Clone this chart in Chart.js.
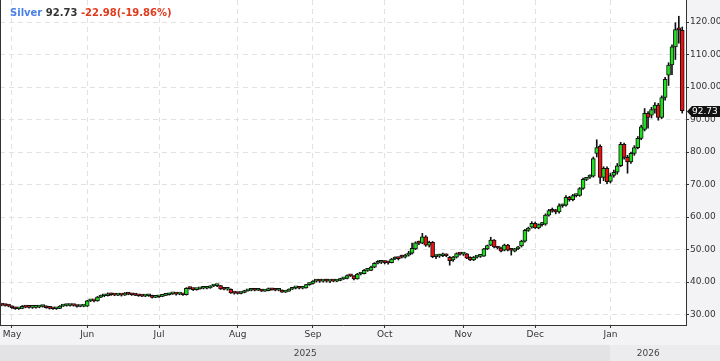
<!DOCTYPE html>
<html>
<head>
<meta charset="utf-8">
<script src="https://cdn.jsdelivr.net/npm/chart.js@4.4.1/dist/chart.umd.min.js"></script>
<style>
  html, body { margin: 0; padding: 0; background: #f3f3f5; }
  canvas { display: block; }
</style>
</head>
<body>
<canvas id="chart" width="720" height="361"></canvas>
<script>
// daily candles [open, high, low, close], one small array per month
const aprTail = [
  [33.0, 33.2, 32.7, 32.9], [32.9, 33.1, 32.6, 32.8], [32.8, 33.0, 32.4, 32.6]
];
const may = [
  [32.6, 32.7, 31.9, 32.1], [32.1, 32.3, 31.6, 31.8], [31.8, 32.1, 31.6, 31.9], [31.9, 32.8, 31.8, 32.5],
  [32.5, 32.6, 32.1, 32.3], [32.3, 32.5, 32.0, 32.2], [32.2, 32.4, 31.9, 32.2], [32.2, 32.6, 32.0, 32.3],
  [32.3, 32.7, 32.1, 32.5], [32.5, 32.8, 32.3, 32.6], [32.6, 32.7, 32.0, 32.1], [32.1, 32.3, 31.7, 31.9],
  [31.9, 32.1, 31.6, 31.8], [31.8, 32.1, 31.6, 31.9], [31.9, 32.8, 31.8, 32.6], [32.6, 33.0, 32.5, 32.8],
  [32.8, 33.1, 32.6, 32.8], [32.8, 33.1, 32.6, 32.9], [32.9, 33.0, 32.6, 32.8], [32.8, 32.9, 32.3, 32.5],
  [32.5, 32.8, 32.4, 32.6], [32.6, 32.8, 32.4, 32.6]
];
const jun = [
  [32.6, 34.4, 32.5, 34.2], [34.2, 34.6, 34.0, 34.3], [34.3, 34.5, 33.9, 34.2], [34.2, 35.6, 34.1, 35.4],
  [35.4, 36.0, 35.2, 35.8], [35.8, 36.1, 35.5, 35.8], [35.8, 36.7, 35.7, 36.4], [36.4, 36.6, 35.9, 36.1],
  [36.1, 36.4, 35.8, 36.0], [36.0, 36.3, 35.8, 36.1], [36.1, 36.3, 35.7, 36.0], [36.0, 36.8, 35.9, 36.6],
  [36.6, 36.8, 36.1, 36.3], [36.3, 36.5, 35.9, 36.1], [36.1, 36.3, 35.8, 36.0], [36.0, 36.1, 35.6, 35.8],
  [35.8, 36.0, 35.5, 35.7], [35.7, 36.0, 35.5, 35.8], [35.8, 36.2, 35.6, 35.9], [35.9, 36.0, 35.1, 35.3],
  [35.3, 35.7, 35.2, 35.5]
];
const jul = [
  [35.5, 35.8, 35.3, 35.6], [35.6, 36.1, 35.5, 35.9], [35.9, 36.3, 35.8, 36.1], [36.1, 36.6, 36.0, 36.4],
  [36.4, 36.7, 36.2, 36.5], [36.5, 36.6, 36.0, 36.3], [36.3, 36.5, 36.1, 36.3], [36.3, 36.5, 35.9, 36.1],
  [36.1, 38.3, 36.0, 38.1], [38.1, 38.5, 37.8, 38.0], [38.0, 38.2, 37.4, 37.7], [37.7, 38.1, 37.5, 37.9],
  [37.9, 38.3, 37.8, 38.1], [38.1, 38.3, 37.9, 38.1], [38.1, 38.4, 37.9, 38.2], [38.2, 38.9, 38.1, 38.8],
  [38.8, 39.1, 38.6, 38.9], [38.9, 39.2, 38.6, 38.9], [38.9, 39.0, 37.7, 37.9], [37.9, 38.1, 37.6, 37.8],
  [37.8, 38.0, 37.5, 37.8], [37.8, 37.9, 36.5, 36.7], [36.7, 36.9, 36.3, 36.6]
];
const aug = [
  [36.6, 36.9, 36.3, 36.5], [36.5, 37.0, 36.4, 36.8], [36.8, 37.5, 36.7, 37.3], [37.3, 37.7, 37.2, 37.5],
  [37.5, 37.8, 37.3, 37.6], [37.6, 37.8, 37.3, 37.5], [37.5, 37.9, 37.4, 37.7], [37.7, 37.8, 37.1, 37.2],
  [37.2, 37.6, 37.1, 37.4], [37.4, 38.2, 37.3, 38.0], [38.0, 38.1, 37.5, 37.6], [37.6, 37.8, 37.3, 37.5],
  [37.5, 37.7, 37.3, 37.5], [37.5, 37.6, 36.8, 36.9], [36.9, 37.4, 36.8, 37.2], [37.2, 37.9, 37.1, 37.8],
  [37.8, 38.3, 37.7, 38.2], [38.2, 38.4, 37.9, 38.2], [38.2, 38.4, 37.9, 38.1], [38.1, 38.4, 37.9, 38.2],
  [38.2, 39.3, 38.1, 39.2]
];
const sep = [
  [39.2, 39.8, 39.0, 39.6], [39.6, 40.5, 39.4, 40.3], [40.3, 40.7, 40.0, 40.4], [40.4, 40.8, 39.9, 40.3],
  [40.3, 40.6, 40.0, 40.4], [40.4, 40.9, 40.0, 40.3], [40.3, 40.6, 39.8, 40.4], [40.4, 40.7, 40.1, 40.3],
  [40.3, 40.8, 40.1, 40.5], [40.5, 41.2, 40.4, 41.0], [41.0, 41.4, 40.8, 41.1], [41.1, 42.2, 41.0, 42.0],
  [42.0, 42.3, 41.7, 41.9], [41.9, 42.0, 40.7, 41.0], [41.0, 42.7, 40.9, 42.5], [42.5, 42.9, 42.2, 42.6],
  [42.6, 43.9, 42.5, 43.6], [43.6, 44.0, 43.3, 43.6], [43.6, 44.9, 43.5, 44.6], [44.6, 46.0, 44.4, 45.8],
  [45.8, 46.6, 45.6, 46.1], [46.1, 46.5, 45.7, 46.2]
];
const oct = [
  [46.2, 46.6, 45.6, 46.0], [46.0, 46.4, 45.5, 45.9], [46.0, 47.3, 45.9, 47.1], [47.1, 47.8, 46.9, 47.4],
  [47.4, 47.7, 46.8, 47.2], [48.1, 48.3, 47.4, 47.7], [47.7, 48.6, 47.4, 48.3], [48.3, 49.5, 48.0, 48.9],
  [48.9, 52.0, 48.6, 50.4], [50.2, 52.4, 50.0, 52.1], [52.1, 52.6, 51.5, 52.0], [52.0, 55.0, 51.8, 53.9],
  [53.9, 54.3, 51.0, 51.4], [51.4, 52.6, 50.8, 52.2], [52.2, 52.5, 47.5, 47.8], [47.8, 48.5, 47.2, 48.0],
  [48.0, 48.6, 47.6, 48.1], [48.1, 48.9, 47.8, 48.5], [48.5, 48.7, 47.8, 48.1], [47.6, 47.9, 45.2, 46.6],
  [46.8, 47.9, 46.4, 47.7], [47.7, 49.0, 47.4, 48.8], [48.8, 49.1, 48.3, 48.6]
];
const nov = [
  [48.6, 48.9, 48.2, 48.7], [48.7, 48.8, 47.2, 47.4], [47.6, 47.8, 46.6, 46.8], [46.8, 47.9, 46.6, 47.7],
  [47.7, 48.1, 47.4, 47.9], [47.9, 48.3, 47.6, 48.0], [48.0, 50.4, 47.9, 50.2], [50.2, 51.4, 50.0, 51.2],
  [51.4, 53.8, 51.2, 52.9], [52.9, 53.1, 50.5, 50.8], [50.8, 51.0, 50.2, 50.5], [50.5, 50.8, 49.3, 49.5],
  [49.8, 51.7, 49.6, 51.4], [51.4, 51.6, 49.6, 49.8], [50.1, 50.4, 48.3, 49.8], [49.5, 50.4, 49.3, 50.2],
  [50.2, 51.0, 50.0, 50.8], [51.1, 52.9, 50.8, 52.6], [52.6, 56.2, 52.3, 55.9], [55.9, 56.9, 55.6, 56.6]
];
const dec = [
  [56.9, 58.6, 56.6, 58.1], [58.1, 58.5, 56.5, 56.7], [56.7, 57.9, 56.4, 57.7], [57.7, 58.4, 57.2, 57.8],
  [57.8, 61.0, 57.5, 60.6], [60.6, 62.4, 60.3, 62.0], [62.0, 62.8, 61.5, 61.8], [61.8, 62.4, 61.0, 61.6],
  [61.6, 64.1, 61.2, 63.5], [63.5, 64.0, 63.0, 63.7], [63.7, 66.6, 63.4, 66.1], [66.1, 66.4, 64.9, 65.4],
  [65.4, 67.0, 65.0, 66.6], [66.6, 67.1, 66.2, 66.7], [66.7, 69.1, 66.4, 68.8], [68.8, 72.0, 68.5, 71.6],
  [71.6, 72.2, 71.2, 71.9], [72.3, 73.0, 71.9, 72.6], [72.6, 78.5, 72.3, 78.0], [79.6, 83.8, 78.5, 81.4],
  [81.8, 82.2, 70.4, 72.2], [72.2, 75.5, 71.2, 75.0], [75.0, 75.5, 70.3, 70.9]
];
const jan = [
  [71.0, 73.5, 70.5, 72.8], [72.8, 74.5, 72.3, 73.8], [73.8, 76.5, 73.2, 75.8], [75.8, 83.0, 75.5, 82.4],
  [82.4, 82.8, 77.8, 78.4], [78.4, 79.0, 73.5, 77.0], [77.0, 80.0, 76.5, 79.6], [79.6, 82.0, 79.0, 81.4],
  [81.4, 84.8, 81.0, 84.2], [84.2, 88.3, 83.8, 87.8], [87.0, 93.4, 86.5, 91.9], [91.9, 92.5, 87.4, 90.7],
  [91.4, 93.8, 90.5, 93.1], [93.1, 95.2, 92.0, 94.5], [94.5, 95.0, 89.8, 90.7], [90.7, 97.3, 90.3, 96.8],
  [96.8, 103.0, 96.0, 102.4], [103.7, 107.5, 100.5, 106.8], [106.8, 113.0, 103.8, 112.4], [112.4, 119.8, 108.5, 117.7],
  [117.8, 121.8, 113.5, 117.6], [117.5, 118.5, 92.0, 92.73]
];
const firstIndex = -3; // trading-day index of first candle (May 1 = 0)

const monthTicks = [0, 22, 43, 66, 88, 109, 132, 153, 175];
const monthLabels = ['May', 'Jun', 'Jul', 'Aug', 'Sep', 'Oct', 'Nov', 'Dec', 'Jan'];
const yearStarts = [-3.5, 175];
const yearLabels = ['2025', '2026'];
const yTicks = [30, 40, 50, 60, 70, 80, 90, 100, 110, 120];

const symbol = 'Silver';
const lastPrice = 92.73;
const change = -22.98;
const changePct = -19.86;

const candles = [].concat(aprTail, may, jun, jul, aug, sep, oct, nov, dec, jan);
const points = candles.map((c, k) => ({ x: firstIndex + k, o: c[0], h: c[1], l: c[2], c: c[3] }));

const UP = '#1ee01e';
const DOWN = '#ee1010';

const noEdgePadding = s => {
  s.paddingTop = 0;
  s.paddingBottom = 0;
  s.paddingLeft = 0;
  s.paddingRight = 0;
};

const framePlugin = {
  id: 'frame',
  beforeDraw(chart) {
    const { ctx, chartArea: a, width, height, scales: { x } } = chart;
    ctx.save();
    ctx.fillStyle = '#f3f3f5';
    ctx.fillRect(0, 0, width, height);
    ctx.fillStyle = '#ffffff';
    ctx.fillRect(a.left, a.top, a.right - a.left, a.bottom - a.top);

    // year band under the month labels
    const bandTop = a.bottom + 20;
    const shades = ['#e3e3e5', '#ececee'];
    ctx.font = '9px "DejaVu Sans"';
    ctx.textAlign = 'center';
    ctx.textBaseline = 'middle';
    yearStarts.forEach((v, k) => {
      const x0 = Math.max(0, x.getPixelForValue(v));
      const x1 = k + 1 < yearStarts.length ? x.getPixelForValue(yearStarts[k + 1]) : width;
      ctx.fillStyle = shades[k % 2];
      ctx.fillRect(x0, bandTop, x1 - x0, height - bandTop);
      const labelEnd = Math.min(x1, a.right);
      ctx.fillStyle = '#444';
      ctx.fillText(yearLabels[k], (x0 + labelEnd) / 2, (bandTop + height) / 2 + 1);
    });
    ctx.restore();
  },
  afterDraw(chart) {
    const { ctx, chartArea: a, scales: { y } } = chart;
    ctx.save();
    // left border
    ctx.strokeStyle = '#333';
    ctx.lineWidth = 1;
    ctx.beginPath();
    ctx.moveTo(0.5, a.top);
    ctx.lineTo(0.5, a.bottom);
    ctx.stroke();

    // title line
    ctx.font = 'bold 10px "DejaVu Sans"';
    ctx.textBaseline = 'alphabetic';
    ctx.textAlign = 'left';
    let tx = 10;
    const parts = [
      [symbol, '#4a80e8'],
      [lastPrice.toFixed(2), '#333333'],
      [change.toFixed(2) + '(' + changePct.toFixed(2) + '%)', '#e03a1c']
    ];
    parts.forEach(([t, col]) => {
      ctx.fillStyle = col;
      ctx.fillText(t, tx, 16);
      tx += ctx.measureText(t + ' ').width;
    });

    // last price tag
    const py = Math.round(y.getPixelForValue(lastPrice)) + 0.5;
    const left = a.right;
    ctx.fillStyle = '#111';
    ctx.beginPath();
    ctx.moveTo(left + 1, py);
    ctx.lineTo(left + 6, py - 5.5);
    ctx.lineTo(720, py - 5.5);
    ctx.lineTo(720, py + 5.5);
    ctx.lineTo(left + 6, py + 5.5);
    ctx.closePath();
    ctx.fill();
    ctx.fillStyle = '#fff';
    ctx.font = '9px "DejaVu Sans"';
    ctx.textBaseline = 'middle';
    ctx.fillText(lastPrice.toFixed(2), left + 6, py + 0.5);
    ctx.restore();
  }
};

new Chart(document.getElementById('chart'), {
  type: 'bar',
  data: {
    datasets: [
      {
        label: 'wick',
        data: points.map(p => ({ x: p.x, y: [p.l, p.h] })),
        backgroundColor: '#111',
        borderWidth: 0,
        barThickness: 1,
        grouped: false,
        order: 2
      },
      {
        label: 'body',
        data: points.map(p => ({ x: p.x, y: [p.o, p.c] })),
        backgroundColor: ctx => {
          const p = points[ctx.dataIndex];
          return p && p.c < p.o ? DOWN : UP;
        },
        borderColor: '#111',
        borderWidth: 1,
        borderSkipped: false,
        barThickness: 4,
        minBarLength: 2,
        grouped: false,
        order: 1
      }
    ]
  },
  options: {
    responsive: false,
    animation: false,
    devicePixelRatio: 1,
    layout: { padding: 0 },
    plugins: {
      legend: { display: false },
      tooltip: { enabled: false }
    },
    scales: {
      x: {
        type: 'linear',
        min: -3.5,
        max: 197.1,
        offset: false,
        afterBuildTicks: s => { s.ticks = monthTicks.map(v => ({ value: v })); },
        afterFit: s => { s.height = 36; noEdgePadding(s); },
        ticks: {
          autoSkip: false,
          maxRotation: 0,
          padding: 1,
          color: '#333',
          font: { family: 'DejaVu Sans', size: 9 },
          callback: v => monthLabels[monthTicks.indexOf(v)] || ''
        },
        grid: {
          offset: false,
          color: '#e2e2e2',
          tickColor: '#333',
          tickLength: 3
        },
        border: { color: '#333', width: 1, dash: [5, 4] }
      },
      y: {
        position: 'right',
        min: 26.8,
        max: 126.8,
        afterBuildTicks: s => { s.ticks = yTicks.map(v => ({ value: v })); },
        afterFit: s => { s.width = 34; noEdgePadding(s); },
        ticks: {
          padding: 1,
          color: '#333',
          font: { family: 'DejaVu Sans', size: 9 },
          callback: v => Number(v).toFixed(2)
        },
        grid: {
          color: '#e2e2e2',
          tickColor: '#333',
          tickLength: 3
        },
        border: { color: '#333', width: 1, dash: [5, 4] }
      }
    }
  },
  plugins: [framePlugin]
});
</script>
</body>
</html>
